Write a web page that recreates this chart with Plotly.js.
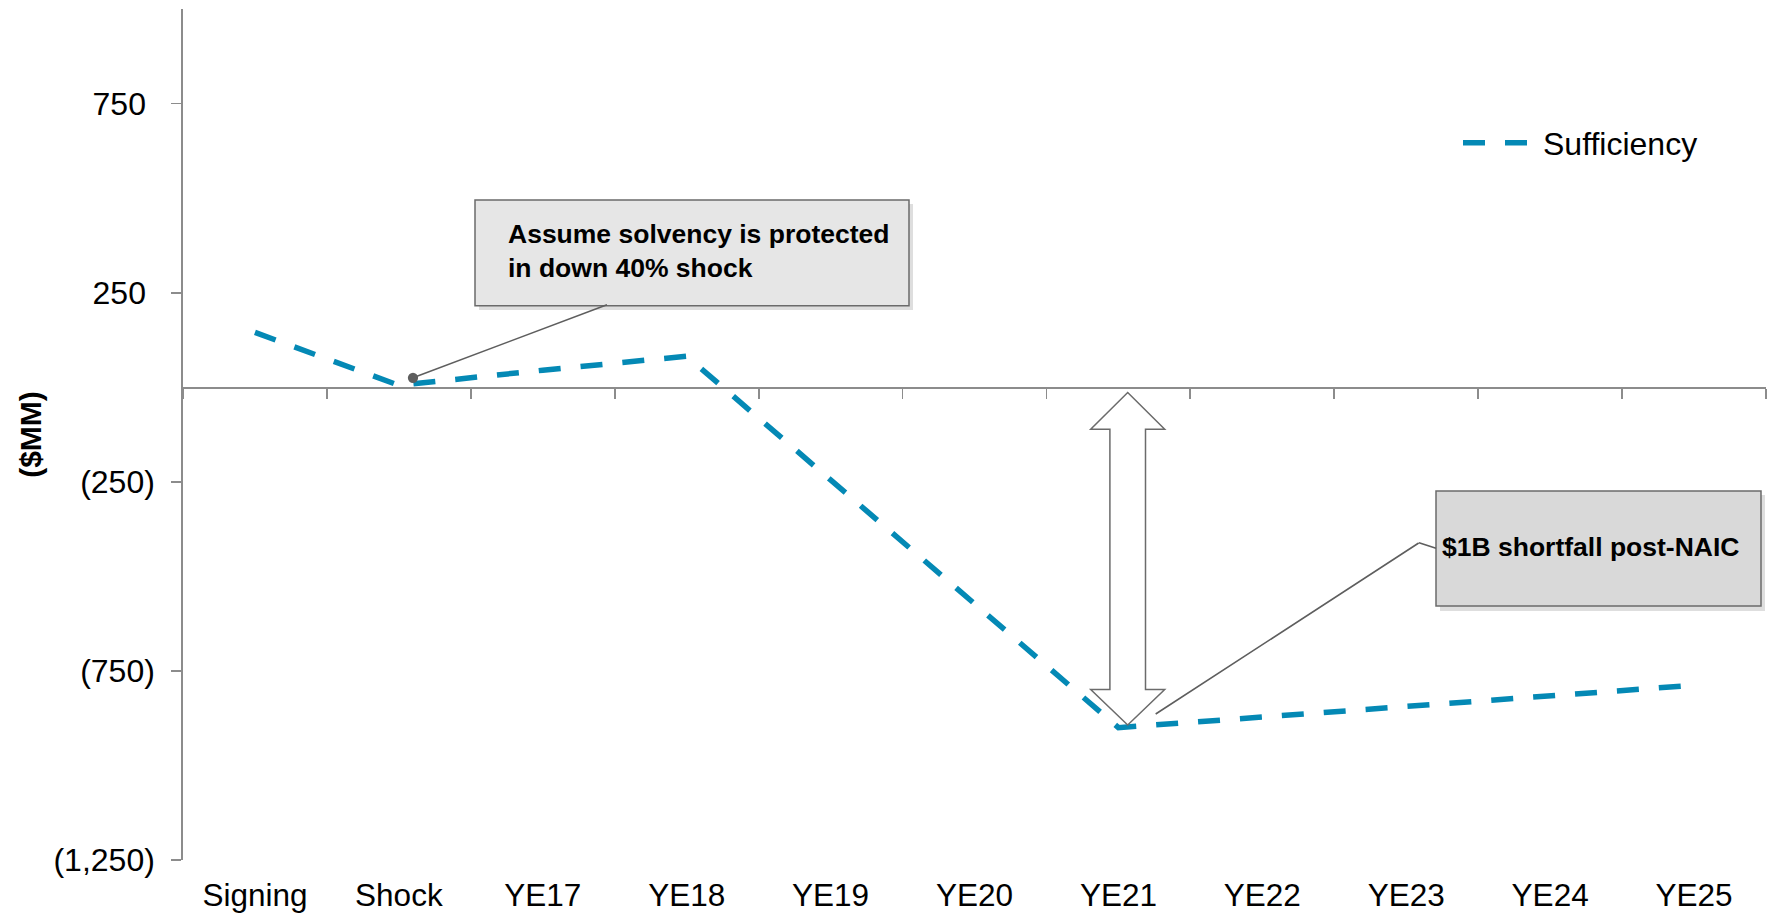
<!DOCTYPE html>
<html><head><meta charset="utf-8">
<script src="https://cdn.plot.ly/plotly-3.0.1.min.js"></script>
<style>html,body{margin:0;padding:0;background:#fff;}#chart{width:1773px;height:915px;}</style>
</head><body><div id="chart"></div>
<script>
// ---- data ----
const categories = ['Signing','Shock','YE17','YE18','YE19','YE20','YE21','YE22','YE23','YE24','YE25'];
const sufficiency = [145, 5, 45, 82, -245, -573, -900, -872, -844, -816, -788];
const seriesName = 'Sufficiency';
const yTickVals = [-1250, -750, -250, 250, 750];
const yTickText = ['(1,250)', '(750)', '(250)', '250\u00A0', '750\u00A0'];
const yRange = [-1250, 1000];
const yTitle = '<b>($MM)</b>';
const note1 = '<b>Assume solvency is protected<br>in down 40% shock</b>';
const note2 = '<b>$1B shortfall post-NAIC</b>';

// ---- layout helpers (pixel -> paper) ----
const W = 1773, H = 915;
const mL = 183, mR = 7, mT = 9, mB = 55;
const PW = W - mL - mR, PH = H - mT - mB;
const px = v => (v - mL) / PW;
const py = v => (H - mB - v) / PH;

const blue = '#0489B5';
const axisGray = '#8C8C8C';
const lineGray = '#5E5E5E';
const font = 'Liberation Sans, Arial, sans-serif';

const traces = [
  { x: categories, y: sufficiency, xaxis: 'x2', yaxis: 'y', mode: 'lines',
    line: { width: 0 }, opacity: 0, hoverinfo: 'skip', showlegend: false },
  { x: categories, y: sufficiency, mode: 'lines', name: seriesName,
    line: { color: blue, width: 5.5, dash: '22px,20px' }, hoverinfo: 'skip' }
];

// double-headed block arrow
const cx = px(1127.7), hw = 37 / PW, sw = 17.8 / PW;
const yTipTop = -14, yHeadTop = -111, yHeadBot = -799, yTipBot = -893;
const arrowPath = `M${cx},${yTipTop} L${cx+hw},${yHeadTop} L${cx+sw},${yHeadTop} L${cx+sw},${yHeadBot} L${cx+hw},${yHeadBot} L${cx},${yTipBot} L${cx-hw},${yHeadBot} L${cx-sw},${yHeadBot} L${cx-sw},${yHeadTop} L${cx-hw},${yHeadTop} Z`;

const shapes = [
  { type: 'rect', xref: 'paper', yref: 'paper', x0: px(479), x1: px(913), y0: py(310), y1: py(204),
    fillcolor: 'rgba(0,0,0,0.13)', line: { width: 0 } },
  { type: 'rect', xref: 'paper', yref: 'paper', x0: px(475), x1: px(909), y0: py(305.7), y1: py(200),
    fillcolor: '#E6E6E6', line: { color: '#6B6B6B', width: 1.5 } },
  { type: 'rect', xref: 'paper', yref: 'paper', x0: px(1440), x1: px(1765), y0: py(611), y1: py(495),
    fillcolor: 'rgba(0,0,0,0.13)', line: { width: 0 } },
  { type: 'rect', xref: 'paper', yref: 'paper', x0: px(1436), x1: px(1761), y0: py(606), y1: py(491),
    fillcolor: '#D9D9D9', line: { color: '#6B6B6B', width: 1.5 } },
  { type: 'path', xref: 'paper', yref: 'y', path: arrowPath,
    fillcolor: '#FFFFFF', line: { color: '#6B6B6B', width: 1.5 } }
];

const annotations = [
  { xref: 'paper', yref: 'paper', x: px(506), y: py(251), xanchor: 'left', yanchor: 'middle',
    text: note1, showarrow: false, align: 'left',
    font: { family: font, size: 26.5, color: '#000' } },
  { xref: 'paper', yref: 'paper', x: px(1440), y: py(547), xanchor: 'left', yanchor: 'middle',
    text: note2, showarrow: false, align: 'left',
    font: { family: font, size: 26.5, color: '#000' } },
  // leader to Shock
  { xref: 'x', yref: 'y', x: 1.098, y: 25, text: '', showarrow: true, axref: 'pixel', ayref: 'pixel',
    ax: 194, ay: -73, arrowhead: 6, arrowsize: 1.6, arrowwidth: 1.6, arrowcolor: lineGray,
    borderpad: 0, borderwidth: 0, standoff: 0 },
  // leader to YE21
  { xref: 'x', yref: 'y', x: 6.259, y: -864, text: '', showarrow: true, axref: 'pixel', ayref: 'pixel',
    ax: 263, ay: -171, arrowhead: 0, arrowwidth: 1.6, arrowcolor: lineGray,
    borderpad: 0, borderwidth: 0, standoff: 0 },
  { xref: 'paper', yref: 'paper', x: px(1419), y: py(542.7), text: '', showarrow: true, axref: 'pixel', ayref: 'pixel',
    ax: 17, ay: 5.5, arrowhead: 0, arrowwidth: 1.6, arrowcolor: lineGray,
    borderpad: 0, borderwidth: 0, standoff: 0 }
];

const layout = {
  width: W, height: H,
  margin: { l: mL, r: mR, t: mT, b: mB },
  paper_bgcolor: '#fff', plot_bgcolor: '#fff',
  font: { family: font, color: '#000' },
  showlegend: true,
  legend: { x: px(1458), xanchor: 'left', y: py(143), yanchor: 'middle',
    font: { family: font, size: 32, color: '#000' }, bgcolor: 'rgba(0,0,0,0)', itemwidth: 75 },
  xaxis: { type: 'category', categoryorder: 'array', categoryarray: categories, range: [-0.5, 10.5],
    showline: false, ticks: '', showgrid: false, zeroline: false,
    tickfont: { family: font, size: 31.5, color: '#000' }, ticklabelstandoff: 13, fixedrange: true },
  xaxis2: { type: 'category', categoryorder: 'array', categoryarray: categories, range: [-0.5, 10.5],
    overlaying: 'x', anchor: 'free', position: (0 - yRange[0]) / (yRange[1] - yRange[0]),
    showline: true, linecolor: axisGray, linewidth: 1.75, ticks: 'outside', tickson: 'boundaries',
    ticklen: 10, tickwidth: 1.75, tickcolor: axisGray, showticklabels: false, showgrid: false,
    zeroline: false, layer: 'below traces', fixedrange: true },
  yaxis: { range: yRange, showline: true, linecolor: axisGray, linewidth: 1.75,
    ticks: 'outside', ticklen: 10, tickwidth: 1.75, tickcolor: axisGray,
    tickvals: yTickVals, ticktext: yTickText, tickfont: { family: font, size: 32, color: '#000' },
    ticklabelstandoff: 10, showgrid: false, zeroline: false, fixedrange: true,
    title: { text: yTitle, font: { family: font, size: 30, color: '#000' }, standoff: 3 } },
  shapes: shapes,
  annotations: annotations
};

Plotly.newPlot('chart', traces, layout, { displayModeBar: false, staticPlot: true });
</script>
</body></html>
